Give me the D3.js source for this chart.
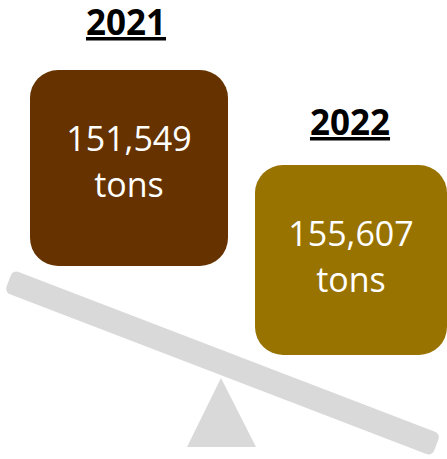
<!DOCTYPE html>
<html>
<head>
<meta charset="utf-8">
<script src="https://cdn.jsdelivr.net/npm/d3@7"></script>
<style>
  html, body { margin: 0; padding: 0; background: #fff; }
  svg { display: block; }
  text { font-family: "Segoe UI", "Open Sans", sans-serif; }
</style>
</head>
<body>
<svg id="chart"></svg>
<script>
//------------------------------------------------------------------------
// Seesaw comparison of tonnage by year

// Data
const years  = ['2021', '2022'];
const tons   = [151549, 155607];
const colors = ['#663300', '#997300'];

// Canvas size
const svgWidth  = 447;
const svgHeight = 459;

// Box layout (per box: width, height, gap from title baseline to box top)
const boxW     = [198, 192];
const boxH     = [196, 190];
const titleGap = [35, 30];
const titleDx  = [-3, -1];
const radius   = 28;

let svg = d3.select('#chart').attr('width', svgWidth).attr('height', svgHeight);

// Horizontal box centres from the year, vertical box top from the weight
let xScale = d3.scalePoint().domain(years).range([129, 351]);
let yScale = d3.scaleLinear().domain(d3.extent(tons)).range([70, 165]);

let rows = years.map((y, i) => ({year: y, value: tons[i], color: colors[i],
                                 w: boxW[i], h: boxH[i], gap: titleGap[i], dx: titleDx[i]}));

// Seesaw: fulcrum then beam
const grey = '#d9d9d9';
svg.append('path')
   .attr('d', 'M221,378 L256,447 L187,447 Z')
   .attr('fill', grey);

// Beam, tilted down toward the heavier side
const beamLen = 458, beamThick = 24, beamTilt = 21;
svg.append('rect')
   .attr('x', -beamLen / 2).attr('y', -beamThick / 2)
   .attr('width', beamLen).attr('height', beamThick)
   .attr('rx', 6)
   .attr('fill', grey)
   .attr('transform', `translate(222.5,363) rotate(${beamTilt})`);

// Boxes
let g = svg.selectAll('g.box').data(rows).enter()
           .append('g').classed('box', true);

g.append('rect')
 .attr('x', d => xScale(d.year) - d.w / 2)
 .attr('y', d => yScale(d.value))
 .attr('width', d => d.w)
 .attr('height', d => d.h)
 .attr('rx', radius)
 .attr('fill', d => d.color);

g.append('text')
 .attr('x', d => xScale(d.year))
 .attr('y', d => yScale(d.value) + 81)
 .attr('text-anchor', 'middle')
 .attr('fill', '#fff')
 .style('font-size', '34px')
 .text(d => d3.format(',')(d.value));

g.append('text')
 .attr('x', d => xScale(d.year))
 .attr('y', d => yScale(d.value) + 127)
 .attr('text-anchor', 'middle')
 .attr('fill', '#fff')
 .style('font-size', '34px')
 .text('tons');

// Year titles, bold and underlined
g.append('text')
 .attr('x', d => xScale(d.year) + d.dx)
 .attr('y', d => yScale(d.value) - d.gap)
 .attr('text-anchor', 'middle')
 .attr('fill', '#000')
 .style('font-size', '35px')
 .style('font-weight', 'bold')
 .style('text-decoration', 'underline')
 .text(d => d.year);
</script>
</body>
</html>
